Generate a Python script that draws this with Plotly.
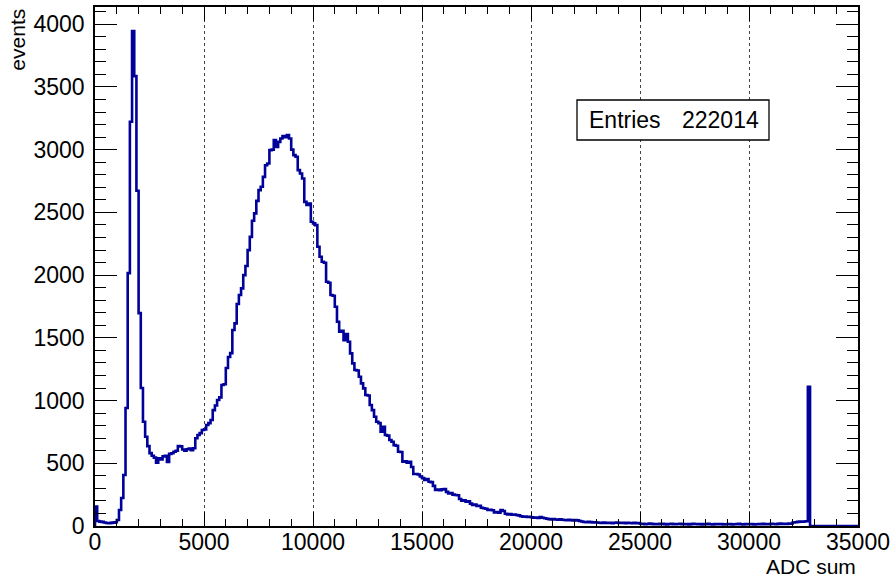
import numpy as np
import plotly.graph_objects as go

# ---- data (ADC sum histogram, 100-ADC bins from 0 to 35000) ----
bin_width = 100
n_bins = 350

counts_0_5k = [155, 40, 35, 33, 28, 24, 23, 25, 27, 30,
               48, 128, 223, 406, 940, 2016, 3222, 3945, 3586, 2672,
               1697, 1100, 831, 712, 637, 581, 560, 545, 505, 540,
               530, 555, 560, 510, 575, 580, 592, 600, 637, 635,
               610, 600, 612, 618, 605, 620, 700, 725, 740, 765]
counts_5k_10k = [770, 805, 820, 845, 924, 960, 1004, 1025, 1124, 1130,
                 1259, 1347, 1378, 1562, 1615, 1769, 1841, 1894, 2000, 2072,
                 2199, 2305, 2433, 2492, 2592, 2677, 2704, 2783, 2876, 2890,
                 2996, 3000, 3076, 3022, 3062, 3089, 3108, 3100, 3116, 3089,
                 3000, 2956, 2943, 2837, 2810, 2770, 2584, 2560, 2571, 2425]
counts_10k_15k = [2412, 2398, 2226, 2146, 2106, 2098, 1947, 1939, 1841, 1835,
                  1748, 1628, 1549, 1555, 1482, 1530, 1469, 1376, 1296, 1243,
                  1240, 1190, 1137, 1097, 1044, 1040, 964, 924, 871, 831,
                  820, 751, 791, 725, 720, 685, 672, 645, 640, 592,
                  590, 512, 515, 505, 512, 470, 414, 415, 410, 395]
counts_15k_20k = [382, 367, 375, 353, 350, 320, 287, 290, 285, 292,
                  295, 272, 260, 262, 250, 247, 245, 215, 202, 205,
                  194, 196, 178, 167, 170, 159, 162, 145, 141, 138,
                  127, 130, 125, 109, 112, 106, 127, 120, 98, 93,
                  95, 90, 92, 88, 85, 78, 74, 76, 72, 74]
counts_20k_25k = [70, 66, 68, 64, 72, 66, 62, 58, 55, 53,
                  56, 52, 50, 54, 50, 48, 46, 49, 47, 44,
                  48, 45, 40, 36, 32, 30, 33, 31, 29, 30,
                  28, 26, 25, 27, 24, 26, 25, 23, 26, 27,
                  25, 24, 26, 23, 25, 24, 22, 25, 23, 24]
counts_25k_30k = [18, 17, 15, 16, 19, 17, 14, 16, 15, 17,
                  18, 15, 13, 16, 17, 14, 15, 16, 18, 15,
                  14, 16, 13, 15, 17, 16, 14, 15, 13, 16,
                  15, 17, 14, 13, 15, 16, 14, 15, 12, 14,
                  16, 15, 13, 14, 15, 17, 14, 13, 15, 14]
counts_30k_35k = [16, 15, 13, 14, 16, 15, 17, 14, 16, 15,
                  18, 16, 15, 17, 19, 16, 18, 17, 19, 20,
                  28, 30, 33, 35, 34, 36, 38, 1110, 0, 0,
                  0, 0, 0, 0, 0, 0, 0, 0, 0, 0,
                  0, 0, 0, 0, 0, 0, 0, 0, 0, 0]

x_ticks = [0, 5000, 10000, 15000, 20000, 25000, 30000, 35000]
y_ticks = [0, 500, 1000, 1500, 2000, 2500, 3000, 3500, 4000]
entries_label = "Entries"
entries_value = "222014"
x_title = "ADC sum"
y_title = "events"

counts = np.array(counts_0_5k + counts_5k_10k + counts_10k_15k + counts_15k_20k
                  + counts_20k_25k + counts_25k_30k + counts_30k_35k, dtype=float)
edges = np.arange(n_bins + 1) * bin_width

# step outline like ROOT's histogram drawing
xs = np.concatenate([[edges[0]], edges[:-1], [edges[-1]]])
ys = np.concatenate([[0.0], counts, [counts[-1]]])

FONT = "Liberation Sans, Arial, Helvetica, sans-serif"
BLUE = "#00009a"

fig = go.Figure()
fig.add_trace(go.Scatter(x=xs, y=ys, mode="lines",
                         line=dict(shape="hv", color=BLUE, width=2.6),
                         hoverinfo="skip", showlegend=False))

fig.update_layout(
    width=891, height=578,
    margin=dict(l=95, r=33, t=7, b=52, autoexpand=False),
    paper_bgcolor="white", plot_bgcolor="white",
    font=dict(family=FONT, size=23, color="black"),
    showlegend=False,
)

fig.update_xaxes(
    range=[0, 35000], tickvals=x_ticks, ticktext=[str(v) for v in x_ticks],
    showline=True, linecolor="black", linewidth=1.5, mirror="allticks",
    ticks="inside", ticklen=14, tickwidth=1.2, tickcolor="black",
    minor=dict(ticks="inside", ticklen=7, dtick=1000, tickcolor="black", tickwidth=1.2, showgrid=False),
    showgrid=True, gridcolor="#444444", griddash="dot", gridwidth=1,
    zeroline=False, tickfont=dict(size=23), ticklabelstandoff=-5, automargin=False,
)
fig.update_yaxes(
    range=[0, 4137], tickvals=y_ticks, ticktext=[str(v) for v in y_ticks],
    showline=True, linecolor="black", linewidth=1.5, mirror="allticks",
    ticks="inside", ticklen=22, tickwidth=1.2, tickcolor="black",
    minor=dict(ticks="inside", ticklen=11, dtick=100, tickcolor="black", tickwidth=1.2, showgrid=False),
    showgrid=False, zeroline=False, tickfont=dict(size=23), ticklabelstandoff=4, automargin=False,
)

# axis titles (ROOT style: right/top aligned)
fig.add_annotation(text=x_title, xref="paper", yref="paper", x=1.0, y=(526 - 553) / 519,
                   xanchor="right", yanchor="top", showarrow=False,
                   font=dict(size=21, family=FONT))
fig.add_annotation(text=y_title, xref="paper", yref="paper", x=-0.085, y=1.0,
                   xanchor="right", yanchor="top", textangle=-90, showarrow=False,
                   font=dict(size=21, family=FONT))

# statistics box
fig.add_shape(type="rect", xref="paper", yref="paper",
              x0=(577 - 95) / 763, x1=(769 - 95) / 763,
              y0=(526 - 140) / 519, y1=(526 - 100) / 519,
              line=dict(color="black", width=1.3), fillcolor="white", layer="above")
fig.add_annotation(text=entries_label, xref="paper", yref="paper",
                   x=(587 - 95) / 763, y=(526 - 120) / 519, xanchor="left", yanchor="middle",
                   showarrow=False, font=dict(size=23, family=FONT))
fig.add_annotation(text=entries_value, xref="paper", yref="paper",
                   x=(761 - 95) / 763, y=(526 - 120) / 519, xanchor="right", yanchor="middle",
                   showarrow=False, font=dict(size=23, family=FONT))

fig.write_html("out.html")
